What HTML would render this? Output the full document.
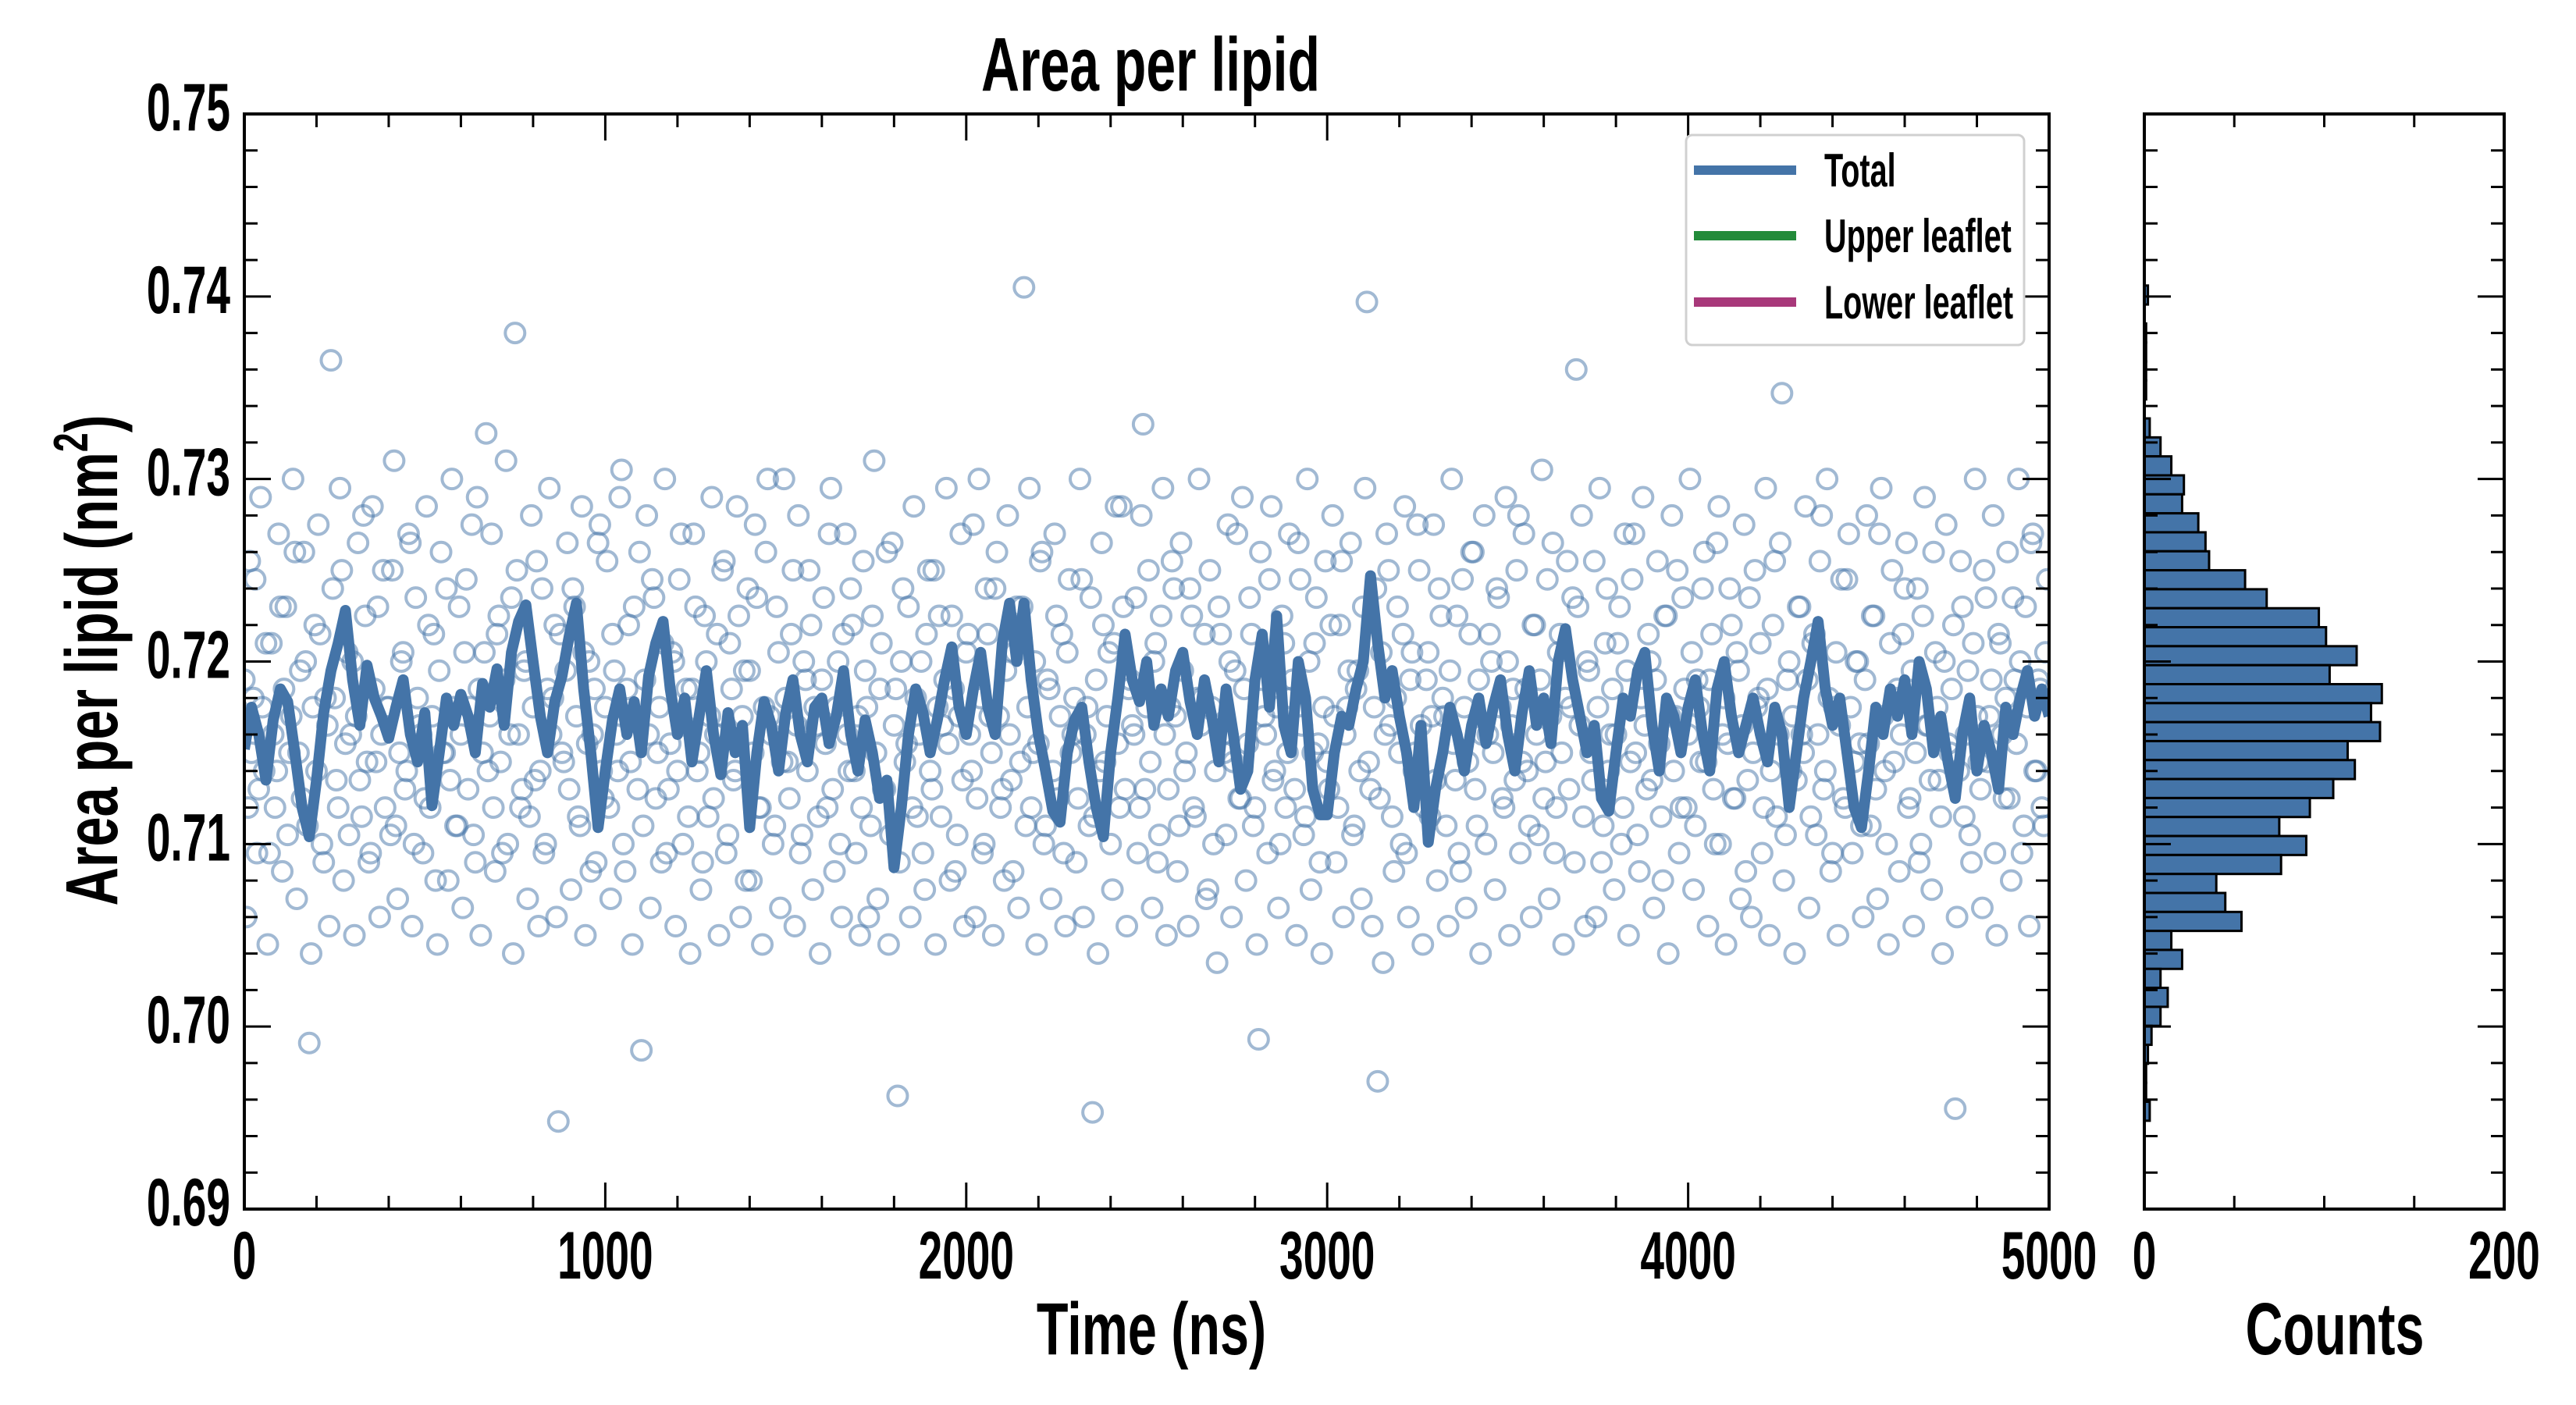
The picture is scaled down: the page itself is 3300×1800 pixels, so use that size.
<!DOCTYPE html>
<html><head><meta charset="utf-8"><title>Area per lipid</title>
<style>
html,body{margin:0;padding:0;background:#fff;}
svg{display:block;}
text{font-family:"Liberation Sans Narrow","Liberation Sans",sans-serif;font-weight:bold;fill:#000;}
</style></head>
<body>
<svg id="chart" xmlns="http://www.w3.org/2000/svg" width="3300" height="1800" viewBox="0 0 3300 1800">
  <rect x="0" y="0" width="3300" height="1800" fill="#fff"/>
  <defs><clipPath id="mainclip"><rect x="313" y="146" width="2312" height="1403"/></clipPath></defs>
  <g id="scatter" clip-path="url(#mainclip)"></g>
  <g id="line" clip-path="url(#mainclip)"></g>
  <g id="hist"></g>
  <g id="axes"></g>
  <g id="labels">
    <g transform="translate(1474,116) scale(0.70,1)"><text x="0" y="0" font-size="97" text-anchor="middle">Area per lipid</text></g>
    <g transform="translate(1475,1735) scale(0.70,1)"><text x="0" y="0" font-size="95" text-anchor="middle">Time (ns)</text></g>
    <g transform="translate(2991,1735) scale(0.70,1)"><text x="0" y="0" font-size="95" text-anchor="middle">Counts</text></g>
    <g transform="translate(150,846) rotate(-90) scale(0.72,1)"><text x="0" y="0" font-size="95" text-anchor="middle">Area per lipid (nm<tspan font-size="62" dy="-38">2</tspan><tspan dy="38">)</tspan></text></g>
  </g>
  <g id="legend">
    <rect x="2160" y="173" width="433" height="269" rx="8" fill="#fff" stroke="#d0d0d0" stroke-width="3"/>
    <g>
      <line x1="2170" y1="218" x2="2301" y2="218" stroke="#4474a8" stroke-width="12"/>
      <g transform="translate(2337,239) scale(0.66,1)"><text font-size="60">Total</text></g>
    </g>
    <g>
      <line x1="2170" y1="302" x2="2301" y2="302" stroke="#238b3a" stroke-width="12"/>
      <g transform="translate(2337,323) scale(0.66,1)"><text font-size="60">Upper leaflet</text></g>
    </g>
    <g>
      <line x1="2170" y1="387" x2="2301" y2="387" stroke="#a8387a" stroke-width="12"/>
      <g transform="translate(2337,408) scale(0.66,1)"><text font-size="60">Lower leaflet</text></g>
    </g>
  </g>
</svg>
<script>
// ---- data ----
const xTickLabels = ["0","1000","2000","3000","4000","5000"];
const yTickLabels = ["0.69","0.70","0.71","0.72","0.73","0.74","0.75"];
const histTickLabels = ["0","200"];
const scatterStepNs = 10;
// area per lipid, in units of 1e-4 nm^2 above 0.7000 (samples at t = 10*i ns)
const scatterValuesE4 = [
190,120,150,245,130,175,210,95,160,140,
230,185,105,170,260,150,125,200,-9,175,
140,215,90,165,365,180,120,250,155,105,
200,170,135,280,145,95,185,230,160,120,
175,250,110,150,205,140,265,100,180,160,
125,220,170,80,195,150,240,135,175,110,
160,205,130,275,90,185,150,325,170,120,
215,145,190,100,235,380,160,130,200,115,
175,255,140,95,185,160,220,-52,150,195,
130,240,170,110,205,155,85,185,265,140,
175,120,215,160,290,100,185,145,230,130,
-13,190,160,245,125,175,210,95,155,200,
140,270,165,115,185,230,150,90,200,170,
125,215,160,255,105,185,140,225,170,80,
195,150,235,120,175,300,160,110,205,145,
180,125,250,165,95,200,140,220,175,115,
190,155,270,130,175,100,215,160,240,140,
170,120,195,60,225,150,185,130,260,105,
165,-38,200,145,230,120,180,160,95,215,
140,250,175,115,190,155,225,85,170,135,
205,160,275,125,180,100,215,150,240,170,
130,195,160,85,230,145,405,175,120,200,
155,260,110,185,140,225,170,95,205,150,
180,125,245,160,110,-47,190,140,220,170,
100,210,155,285,130,185,165,235,120,330,
175,145,200,90,225,160,130,255,170,110,
195,150,240,120,180,165,215,75,175,140,
230,160,105,200,145,270,125,185,155,215,
120,-7,190,160,245,135,175,100,210,150,
180,130,265,165,115,200,150,235,90,175,
145,220,170,120,255,160,195,105,185,140,
230,397,130,175,-30,205,160,250,115,180,
150,215,95,190,140,275,165,120,205,170,
135,240,180,110,195,155,225,85,175,145,
260,130,190,160,100,215,150,240,175,120,
200,165,135,280,145,185,110,220,160,190,
125,245,170,95,205,150,180,130,235,360,
165,115,200,150,255,175,90,210,140,185,
160,230,120,195,145,270,105,180,165,215,
135,190,155,80,225,170,140,250,120,185,
160,205,110,175,240,145,190,130,265,100,
180,155,220,125,195,165,85,235,150,175,
210,120,185,140,255,160,347,105,200,170,
135,230,150,190,115,215,160,280,140,180,
95,205,165,125,245,175,145,200,110,190,
155,225,130,270,170,100,210,145,185,160,
240,120,195,150,90,225,165,135,260,175,
115,200,155,185,-45,140,230,160,105,210,
170,130,250,145,190,95,215,160,180,125,
235,155,200,110,175,265,140,190,120,205
];
// second set of samples (at t = 10*i + 5 ns)
const scatterValuesE4b = [
60,255,180,95,290,140,45,210,120,270,
85,230,150,300,70,195,260,110,40,220,
275,100,180,55,240,135,295,80,205,160,
50,265,115,225,90,285,145,60,250,175,
105,310,70,200,130,270,55,235,165,95,
285,120,215,45,260,150,80,300,110,230,
65,245,175,105,290,50,205,140,270,85,
225,95,310,160,40,250,120,195,70,280,
135,55,240,100,295,180,60,215,145,265,
75,230,115,285,50,200,160,90,275,125,
255,70,195,140,305,85,220,45,170,260,
110,280,65,235,150,90,300,130,205,55,
245,100,185,40,270,140,75,225,115,290,
160,50,250,95,210,135,285,60,195,240,
80,275,120,45,260,170,100,230,65,300,
145,215,55,280,105,190,250,75,165,40,
235,120,295,85,200,60,270,140,220,95,
50,255,175,110,310,70,210,130,45,265,
185,90,240,155,60,285,115,200,75,250,
130,45,225,165,295,80,185,105,270,55,
215,140,60,300,95,240,170,50,260,120,
80,280,135,205,65,230,110,295,150,45,
255,100,190,70,270,125,215,55,245,160,
90,300,60,175,235,115,40,265,145,205,
75,285,120,230,55,190,160,95,280,130,
250,65,210,105,295,50,175,240,85,265,
140,55,225,115,300,180,70,250,100,35,
215,150,275,60,195,125,290,80,235,110,
45,260,170,95,285,140,65,225,120,270,
190,50,245,105,300,75,210,155,40,255,
130,280,90,220,60,175,265,110,195,70,
295,145,55,240,125,35,270,165,85,230,
100,285,60,205,150,250,45,190,115,275,
80,225,170,55,300,135,95,245,65,215,
260,110,40,280,160,200,75,235,125,290,
50,185,250,95,270,140,60,220,105,305,
145,70,265,120,215,45,255,175,90,230,
280,55,195,135,60,295,110,240,160,75,
210,100,270,50,245,150,85,290,130,200,
65,255,115,225,40,280,170,95,235,120,
300,75,190,145,260,55,215,100,285,160,
45,240,125,205,70,275,135,60,250,180,
95,295,50,220,115,265,80,190,140,40,
230,160,285,65,210,105,255,130,300,85,
175,50,245,120,270,95,200,155,60,280,
110,225,70,295,140,45,250,180,85,215,
265,125,55,240,100,290,165,75,205,135,
40,275,150,220,60,255,115,195,90,300,
145,65,235,170,280,50,210,125,260,80,
190,300,95,230,55,270,140,185,110,245
];
const lineStepNs = 20;
const lineValuesE4 = [
152,175,160,135,168,185,178,150,120,104,
135,172,195,210,228,190,165,198,180,170,
158,175,190,160,145,172,121,150,180,165,
182,170,150,188,175,196,165,205,222,231,
200,170,150,178,192,214,232,185,150,109,
140,168,185,160,178,150,192,210,222,185,
160,180,145,170,195,160,138,172,150,165,
109,150,178,165,140,172,190,160,145,175,
180,155,170,195,160,140,168,150,125,135,
87,120,160,185,172,150,168,190,208,175,
160,185,205,175,160,210,232,200,232,190,
160,140,118,112,150,168,175,145,120,104,
150,180,215,190,178,200,165,185,170,195,
205,178,160,190,170,145,185,160,130,140,
190,215,175,225,165,150,200,180,130,116,
116,150,170,165,185,200,247,210,180,195,
170,150,120,165,101,130,150,175,160,140,
165,180,155,175,190,160,140,172,195,165,
180,155,200,218,190,170,150,165,125,118,
150,180,170,195,205,165,140,180,170,150,
175,190,160,140,185,200,170,150,165,180,
160,145,175,160,120,150,180,200,222,185,
165,180,150,120,109,140,175,160,185,170,
190,160,200,185,150,170,145,125,160,180,
140,165,150,130,175,160,180,195,170,185,
170
];
const histTopBinEdge = 0.74060;
const histBinWidth = 0.00104;
const histCounts = [2,0,1,1,1,1,0,3,9,15,22,21,30,34,36,56,68,97,101,118,103,132,126,131,113,117,105,92,75,90,76,40,45,54,15,21,9,13,9,4,2,1,1,3];

// ---- scales ----
const L=313,R=2625,T=146,B=1549, HL=2747, HR=3208;
const X0=0,X1=5000,Y0=0.69,Y1=0.75,C0=0,C1=200;
function xs(t){return L+(t-X0)/(X1-X0)*(R-L);}
function ys(v){return B-(v-Y0)/(Y1-Y0)*(B-T);}
function hx(c){return HL+(c-C0)/(C1-C0)*(HR-HL);}
const NS="http://www.w3.org/2000/svg";
function mk(tag,attrs,parent){const e=document.createElementNS(NS,tag);for(const k in attrs)e.setAttribute(k,attrs[k]);parent.appendChild(e);return e;}

// scatter
const sg=document.getElementById('scatter');
function drawScatter(arr,offset){
  arr.forEach((v,i)=>{
    const c=mk('circle',{cx:xs(i*scatterStepNs+offset),cy:ys(0.7+v/10000),r:12.5,fill:'none',stroke:'#4474a8','stroke-opacity':0.5,'stroke-width':4},sg);
    
    
  });
}
drawScatter(scatterValuesE4,0);
drawScatter(scatterValuesE4b,5);
// line
const lg=document.getElementById('line');
const pts=lineValuesE4.map((v,i)=>xs(i*lineStepNs).toFixed(1)+','+ys(0.7+v/10000).toFixed(1)).join(' ');
const pl=mk('polyline',{points:pts,fill:'none',stroke:'#4474a8','stroke-width':14,'stroke-linejoin':'round'},lg);



// histogram
const hg=document.getElementById('hist');
histCounts.forEach((c,k)=>{
  if(c<=0)return;
  const top=histTopBinEdge-k*histBinWidth, bot=top-histBinWidth;
  const r=mk('rect',{x:hx(0),y:ys(top),width:hx(c)-hx(0),height:ys(bot)-ys(top),fill:'#4474a8',stroke:'#000','stroke-width':3},hg);
  
  
});

// axes
const ag=document.getElementById('axes');
function frame(x0,x1){mk('rect',{x:x0,y:T,width:x1-x0,height:B-T,fill:'none',stroke:'#000','stroke-width':4},ag);}
frame(L,R); frame(HL,HR);
function tick(x1,y1,x2,y2){mk('line',{x1:x1,y1:y1,x2:x2,y2:y2,stroke:'#000','stroke-width':3},ag);}
function label(txt,x,y,anchor,name){
  const g=mk('g',{transform:`translate(${x},${y}) scale(0.64,1)`},ag);
  
  
  const t=mk('text',{x:0,y:0,'font-size':86,'text-anchor':anchor},g);t.textContent=txt;
}
// main x ticks
for(let t=0;t<=5000;t+=200){const x=xs(t);const len=(t%1000===0)?34:17;tick(x,B,x,B-len);tick(x,T,x,T+len);}
xTickLabels.forEach(s=>label(s,xs(+s),1638,'middle','x-tick-label'));
// main y ticks
for(let i=0;i<=30;i++){const v=Y0+i*0.002;const y=ys(v);const len=(i%5===0)?34:17;tick(L,y,L+len,y);tick(R,y,R-len,y);tick(HL,y,HL+len,y);tick(HR,y,HR-len,y);}
yTickLabels.forEach(s=>label(s,295,ys(+s)+21,'end','y-tick-label'));
// hist x ticks
for(let c=0;c<=200;c+=50){const x=hx(c);tick(x,B,x,B-17);tick(x,T,x,T+17);}
histTickLabels.forEach(s=>label(s,hx(+s),1638,'middle','hist-x-tick-label'));
</script>
</body></html>
